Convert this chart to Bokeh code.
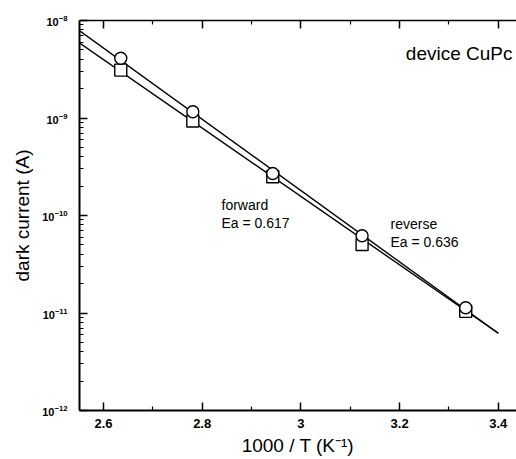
from bokeh.plotting import figure
from bokeh.models import LinearAxis, FixedTicker, Label, Range1d, CustomJSTickFormatter
from bokeh.embed import file_html
from bokeh.resources import INLINE

# ---- data ----
inv_T = [2.635, 2.781, 2.943, 3.124, 3.334]            # 1000 / T (1/K)
current_circle = [4.1e-9, 1.16e-9, 2.7e-10, 6.2e-11, 1.13e-11]
current_square = [3.1e-9, 0.93e-9, 2.5e-10, 5.05e-11, 1.04e-11]
fit_x = [2.551, 3.40]
fit_upper = [7.9e-9, 6.2e-12]
fit_lower = [5.9e-9, 6.2e-12]
x_ticks = [2.6, 2.8, 3.0, 3.2, 3.4]
x_minor = [2.7, 2.9, 3.1, 3.3]
y_decades = [1e-12, 1e-11, 1e-10, 1e-9, 1e-8]
y_minor = [m * d for d in y_decades[:-1] for m in range(2, 10)]

FONT = "Liberation Sans"

p = figure(width=516, height=459, y_axis_type="log",
           x_range=Range1d(2.5514, 3.4369), y_range=Range1d(1e-12, 1e-8),
           output_backend="svg", toolbar_location=None,
           min_border_left=79, min_border_right=0,
           min_border_top=20, min_border_bottom=49)
p.outline_line_color = None
p.xgrid.visible = False
p.ygrid.visible = False
p.background_fill_color = "white"
p.border_fill_color = "white"

# fit lines
p.line(fit_x, fit_upper, line_color="black", line_width=1.4)
p.line(fit_x, fit_lower, line_color="black", line_width=1.4)

# markers
p.scatter(inv_T, current_square, marker="square", size=12,
          fill_color="white", line_color="black", line_width=1.4)
p.scatter(inv_T, current_circle, marker="circle", size=12,
          fill_color="white", line_color="black", line_width=1.4)

def style_axis(ax, lw=2):
    ax.axis_line_color = "black"
    ax.axis_line_width = lw
    ax.major_tick_line_color = "black"
    ax.major_tick_line_width = 1.5
    ax.minor_tick_line_color = "black"
    ax.minor_tick_line_width = 1.2
    ax.major_tick_in = 8
    ax.major_tick_out = 0
    ax.minor_tick_in = 4
    ax.minor_tick_out = 0

xax = p.xaxis[0]
style_axis(xax)
xax.ticker = FixedTicker(ticks=x_ticks, minor_ticks=x_minor)
xax.major_label_text_font = FONT
xax.major_label_text_font_size = "13px"
xax.major_label_text_font_style = "bold"
xax.major_label_text_color = "black"
xax.major_label_standoff = 8
xax.axis_label = "1000 / T (K\u207b\u00b9)"
xax.axis_label_text_font = FONT
xax.axis_label_text_font_size = "19px"
xax.axis_label_text_font_style = "normal"
xax.axis_label_text_color = "black"
xax.axis_label_standoff = 4

yax = p.yaxis[0]
style_axis(yax)
yax.ticker = FixedTicker(ticks=y_decades, minor_ticks=y_minor)
yax.major_label_text_font = FONT
yax.major_label_text_font_size = "11px"
yax.major_label_text_font_style = "bold"
yax.major_label_text_color = "black"
yax.major_label_standoff = 12
yax.axis_label = "dark current (A)"
yax.axis_label_text_font = FONT
yax.axis_label_text_font_size = "19px"
yax.axis_label_text_font_style = "normal"
yax.axis_label_text_color = "black"
yax.axis_label_standoff = 6

top = LinearAxis(ticker=FixedTicker(ticks=x_ticks, minor_ticks=x_minor),
                 formatter=CustomJSTickFormatter(code="return ''"))
style_axis(top, lw=1.5)
top.major_label_standoff = 0
p.add_layout(top, "above")

# annotations
p.add_layout(Label(x=433, y=357, x_units="screen", y_units="screen",
                   text="device CuPc", text_font=FONT, text_font_size="19px",
                   text_align="right", text_baseline="alphabetic",
                   text_color="black"))
for txt, sx, sy in [("forward", 142, 206), ("Ea = 0.617", 142, 188),
                    ("reverse", 311, 187), ("Ea = 0.636", 311, 169)]:
    p.add_layout(Label(x=sx, y=sy, x_units="screen", y_units="screen",
                       text=txt, text_font=FONT, text_font_size="14px",
                       text_align="left", text_baseline="alphabetic",
                       text_color="black"))

open("out.html", "w").write(file_html(p, INLINE))
